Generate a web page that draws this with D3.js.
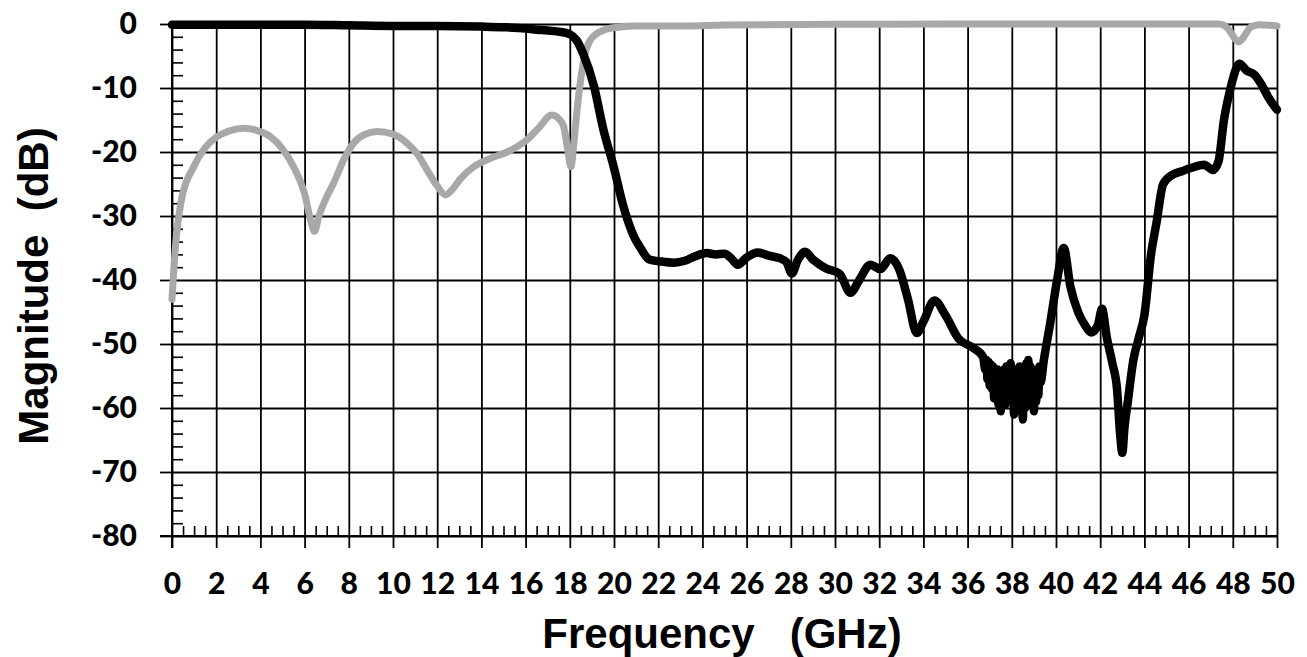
<!DOCTYPE html>
<html>
<head>
<meta charset="utf-8">
<script src="https://cdn.jsdelivr.net/npm/d3@7"></script>
<style>
  html, body { margin: 0; padding: 0; background: #fff; }
  svg { display: block; }
</style>
</head>
<body>
<svg id="chart" width="1307" height="657"></svg>
<script>
// ---- data ----
const xTicks = [0,2,4,6,8,10,12,14,16,18,20,22,24,26,28,30,32,34,36,38,40,42,44,46,48,50];
const yTicks = [0,-10,-20,-30,-40,-50,-60,-70,-80];

// black trace (transmission)
const s21Freq = [0,2,4,6,8,10,12,14,15,16,16.5,17,17.5,18,18.3,18.6,19.1,19.5,20.0,20.4,20.9,21.2,21.6,22.1,22.7,23.2,23.6,24.2,24.6,25.0,25.3,25.6,26.0,26.5,27.0,27.5,27.8,28.05,28.3,28.65,29.0,29.6,30.2,30.7,31.1,31.6,32.05,32.5,32.9,33.3,33.7,34.0,34.5,35.0,35.6,36.2,36.7,
  36.8,36.85,36.9,36.95,37.0,37.05,37.1,37.15,37.2,37.25,37.3,37.35,37.4,37.45,37.5,37.55,37.6,37.65,37.7,37.75,37.8,37.85,37.9,37.95,38.0,38.05,38.1,38.15,38.2,38.25,38.3,38.35,38.4,38.45,38.5,38.55,38.6,38.65,38.7,38.75,38.8,38.85,38.9,38.95,39.0,39.05,39.1,39.15,39.2,39.25,39.3,
  39.45,39.75,40.05,40.35,40.65,41.0,41.3,41.6,41.9,42.08,42.3,42.55,42.76,42.9,43.0,43.1,43.25,43.5,43.75,44.0,44.3,44.55,44.85,45.3,45.7,46.1,46.7,47.1,47.35,47.6,47.9,48.15,48.3,48.6,49.0,49.3,49.6,50.0];
const s21Mag  = [-0.1,-0.1,-0.1,-0.1,-0.2,-0.3,-0.3,-0.4,-0.5,-0.7,-0.9,-1.0,-1.2,-1.6,-2.5,-4.6,-9.8,-16.2,-22.5,-28.2,-33.2,-35.0,-36.8,-37.1,-37.3,-37.0,-36.4,-35.8,-36.0,-35.9,-36.6,-37.6,-36.5,-35.7,-36.2,-36.6,-37.2,-39.0,-37.0,-35.6,-36.8,-38.2,-39.0,-42.0,-40.0,-37.6,-38.3,-36.6,-38.3,-43,-48.3,-46.5,-43.2,-45.5,-49.2,-50.5,-52,
  -54,-52.5,-55.5,-52.8,-56.5,-53.2,-57,-53.5,-58.5,-54,-57.5,-54,-59.5,-54.5,-60.5,-55,-58,-54,-59.5,-53.5,-58,-53.5,-57.5,-53,-59,-54,-61,-55,-59.5,-54,-60,-53.5,-58.5,-54.5,-61.8,-55,-60,-53,-56,-52.5,-58.5,-53.5,-59,-54,-60.5,-55,-59,-54,-58,-53.5,-56,
  -52.5,-46.5,-40,-35.0,-41,-45,-47,-48.2,-47,-44.5,-49,-53,-57,-64,-67,-63,-59,-52.5,-49,-45.5,-36,-31,-25,-23.5,-23,-22.5,-22,-22.8,-21.5,-15,-10,-7,-6.2,-7.2,-8.0,-9.5,-11.4,-13.4];

// grey trace (reflection)
const s11Freq = [0,0.15,0.4,0.98,1.5,2.04,2.6,3.24,3.9,4.45,5.0,5.5,6.0,6.3,6.45,6.65,7.0,7.31,7.8,8.22,8.7,9.28,10.0,10.63,11.1,11.54,12.0,12.37,12.7,13.05,13.65,14.4,15.16,15.6,16.06,16.6,17.19,17.5,17.72,17.9,18.05,18.2,18.33,18.5,18.7,18.93,19.5,20.2,21.0,23.2,25,30,35,40,45,47.4,47.8,48.1,48.28,48.5,48.8,49.2,50];
const s11Mag  = [-43,-35,-28,-22.3,-19.3,-17.6,-16.7,-16.3,-16.7,-17.6,-19.5,-22.3,-26.5,-31,-32.4,-30,-27,-24.9,-21,-18.6,-17.3,-16.8,-17.2,-18.6,-20.3,-22.8,-25.3,-26.7,-25.8,-24.2,-22.3,-21.0,-20.0,-19.2,-18.1,-16.2,-14.2,-14.8,-16.0,-19.5,-22.3,-18,-13.4,-8.5,-4.5,-2.5,-1.0,-0.5,-0.3,-0.3,-0.15,-0.05,0,0,0,0,-0.8,-2.3,-2.8,-2.0,-0.5,-0.1,-0.3];

const xTitle = "Frequency   (GHz)";
const yTitle = "Magnitude  (dB)";

// ---- layout ----
const svg = d3.select("#chart");
const pL = 172, pR = 1277, pT = 24, pB = 536;

const x = d3.scaleLinear().domain([0, 50]).range([pL, pR]);
const y = d3.scaleLinear().domain([-80, 0]).range([pB, pT]);

const g = svg.append("g");
const tickFont = "Lato, 'Open Sans', sans-serif";

// minor y ticks (inside, every 2 dB)
const yMinor = d3.range(-80, 0.1, 2).filter(v => v % 10 !== 0);
g.append("g")
  .attr("transform", `translate(${pL},0)`)
  .call(d3.axisRight(y).tickValues(yMinor).tickSize(11).tickFormat(""))
  .call(s => s.select(".domain").remove())
  .call(s => s.selectAll("line").attr("stroke", "#000").attr("stroke-width", 1.6));

// minor x ticks (inside, every 0.5 GHz)
const xMinor = d3.range(0, 50.01, 0.5).filter(v => v % 2 !== 0);
g.append("g")
  .attr("transform", `translate(0,${pB})`)
  .call(d3.axisTop(x).tickValues(xMinor).tickSize(10).tickFormat(""))
  .call(s => s.select(".domain").remove())
  .call(s => s.selectAll("line").attr("stroke", "#000").attr("stroke-width", 1.6));

// horizontal grid + y axis labels
const yAxis = g.append("g")
  .attr("transform", `translate(${pL},0)`)
  .call(d3.axisLeft(y).tickValues(yTicks).tickSize(12).tickPadding(23).tickFormat(d => String(d)))
  .call(s => s.select(".domain").remove());
yAxis.selectAll(".tick line").clone()
  .attr("x2", pR - pL);
yAxis.selectAll("line").attr("stroke", "#000").attr("stroke-width", 1.8);
yAxis.selectAll("text")
  .attr("fill", "#000")
  .style("font-family", tickFont)
  .style("font-weight", "900")
  .style("font-size", "30px");

// vertical grid + x axis labels
const xAxis = g.append("g")
  .attr("transform", `translate(0,${pB})`)
  .call(d3.axisBottom(x).tickValues(xTicks).tickSize(12).tickPadding(25).tickFormat(d => String(d)))
  .call(s => s.select(".domain").remove());
xAxis.selectAll(".tick line").clone()
  .attr("y2", -(pB - pT));
xAxis.selectAll("line").attr("stroke", "#000").attr("stroke-width", 1.8);
xAxis.selectAll("text")
  .attr("fill", "#000")
  .style("font-family", tickFont)
  .style("font-weight", "900")
  .style("font-size", "30px");

// axis lines
g.append("line").attr("x1", pL).attr("x2", pL).attr("y1", pT).attr("y2", pB + 12)
  .attr("stroke", "#000").attr("stroke-width", 2);
g.append("line").attr("x1", pL - 12).attr("x2", pR).attr("y1", pB).attr("y2", pB)
  .attr("stroke", "#000").attr("stroke-width", 2);

// traces
const s11 = s11Freq.map((f, i) => [f, s11Mag[i]]);
const s21 = s21Freq.map((f, i) => [f, s21Mag[i]]);

const line = d3.line()
  .x(d => x(d[0]))
  .y(d => y(d[1]))
  .curve(d3.curveMonotoneX);

g.append("path").datum(s11)
  .attr("d", line)
  .attr("fill", "none")
  .attr("stroke", "#a8a8a8")
  .attr("stroke-width", 7)
  .attr("stroke-linejoin", "round")
  .attr("stroke-linecap", "round");

g.append("path").datum(s21)
  .attr("d", line)
  .attr("fill", "none")
  .attr("stroke", "#000")
  .attr("stroke-width", 8.5)
  .attr("stroke-linejoin", "round")
  .attr("stroke-linecap", "round");

// axis titles
svg.append("text")
  .attr("x", 722)
  .attr("y", 648)
  .attr("text-anchor", "middle")
  .style("font-family", "'Liberation Sans', Arial, sans-serif")
  .style("font-weight", "700")
  .style("font-size", "42px")
  .style("white-space", "pre")
  .text(xTitle);

svg.append("text")
  .attr("transform", `translate(48,286) rotate(-90)`)
  .attr("text-anchor", "middle")
  .style("font-family", "'Liberation Sans', Arial, sans-serif")
  .style("font-weight", "700")
  .style("font-size", "42px")
  .style("white-space", "pre")
  .text(yTitle);
</script>
</body>
</html>
